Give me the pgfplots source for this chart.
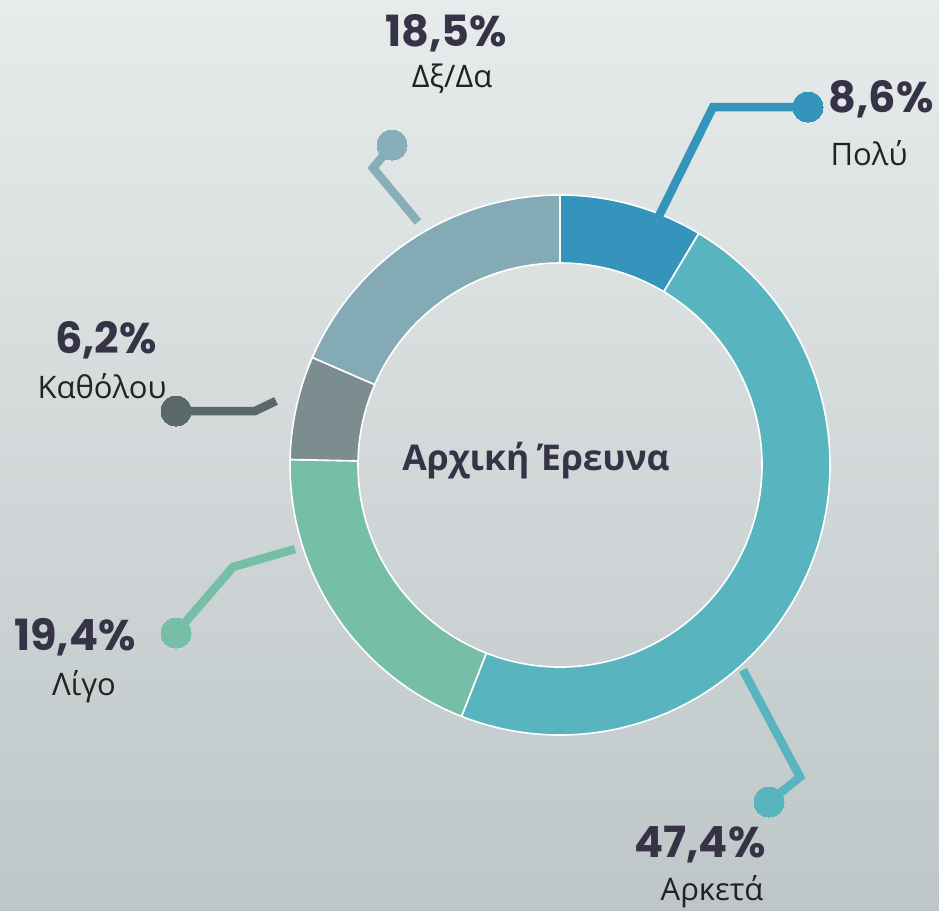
\documentclass[border=0pt]{standalone}
\usepackage{pgfplots}
\pgfplotsset{compat=1.18}
\usepackage{pgfplotstable}
\usepackage{fontspec}
\setmainfont{Open Sans}
\newfontfamily\pop{Poppins}

\definecolor{bgtop}{HTML}{E7EBEB}
\definecolor{bgbot}{HTML}{BEC6C7}
\definecolor{seg0}{HTML}{3594BC}
\definecolor{seg1}{HTML}{58B5C0}
\definecolor{seg2}{HTML}{76BEA8}
\definecolor{seg3}{HTML}{7B8D8E}
\definecolor{seg4}{HTML}{84ABB5}
\definecolor{lead3}{HTML}{5A6868}
\definecolor{lead4}{HTML}{88AFB9}
\definecolor{txt}{HTML}{363347}
\definecolor{lbl}{HTML}{222222}

\pgfplotstableread{
label value
Polu 8.6
Arketa 47.4
Ligo 19.4
Katholou 6.2
DxDa 18.5
}\datatable

\begin{document}
\begin{tikzpicture}
\gdef\cum{0}
\foreach \i in {0,...,4}{%
  \pgfplotstablegetelem{\i}{value}\of\datatable
  \pgfmathsetmacro\a{90-\cum/100.1*360}%
  \pgfmathsetmacro\newcum{\cum+\pgfplotsretval}%
  \pgfmathsetmacro\b{90-\newcum/100.1*360}%
  \expandafter\xdef\csname sa\i\endcsname{\a}%
  \expandafter\xdef\csname sb\i\endcsname{\b}%
  \xdef\cum{\newcum}%
}
\begin{axis}[scale only axis, width=939pt, height=910pt,
  xmin=0, xmax=939, ymin=0, ymax=910, y dir=reverse,
  hide axis, clip=false]
\fill[top color=bgtop, bottom color=bgbot] (axis cs:0,0) rectangle (axis cs:939,910);
\coordinate (C) at (axis cs:560,465);
\pgfplotsinvokeforeach{0,...,4}{
  \fill[seg#1, draw=white, line width=1.6pt, line join=round]
    ([shift={(\csname sa#1\endcsname:270pt)}]C)
    arc[start angle=\csname sa#1\endcsname, end angle=\csname sb#1\endcsname, radius=270pt]
    -- ([shift={(\csname sb#1\endcsname:202pt)}]C)
    arc[start angle=\csname sb#1\endcsname, end angle=\csname sa#1\endcsname, radius=202pt]
    -- cycle;
}
% leader lines
\tikzset{lead/.style={no markers, line width=8.5pt},
  dot/.style={only marks, mark=*, mark size=15pt, color=#1, mark options={draw=#1, fill=#1, line width=0pt}}}
\addplot[lead, seg0] coordinates {(658,218) (713,107) (808,107)};
\addplot[dot=seg0] coordinates {(808,107)};
\addplot[lead, lead4] coordinates {(418,222) (373,168) (392,145)};
\addplot[dot=lead4] coordinates {(392,145)};
\addplot[lead, lead3] coordinates {(176,411) (255,411) (276,401)};
\addplot[dot=lead3] coordinates {(176,411)};
\addplot[lead, seg2] coordinates {(295,549) (233,567) (176,633)};
\addplot[dot=seg2] coordinates {(176,633)};
\addplot[lead, seg1] coordinates {(743,670) (800,777) (769,802)};
\addplot[dot=seg1] coordinates {(769,802)};
% texts
\tikzset{pct/.style={font=\pop\bfseries\fontsize{43}{43}\selectfont, text=txt, anchor=base, inner sep=0pt},
  lab/.style={font=\fontsize{31}{31}\selectfont, text=lbl, anchor=base, inner sep=0pt}}
\node[pct] at (axis cs:446,46) {18,5\%};
\node[lab] at (axis cs:452,87) {Δξ/Δα};
\node[pct] at (axis cs:881,112) {8,6\%};
\node[lab] at (axis cs:869,165) {Πολύ};
\node[pct] at (axis cs:106,353) {6,2\%};
\node[lab] at (axis cs:102,398) {Καθόλου};
\node[pct] at (axis cs:75,650) {19,4\%};
\node[lab] at (axis cs:84,695) {Λίγο};
\node[pct] at (axis cs:700,857) {47,4\%};
\node[lab] at (axis cs:712,900) {Αρκετά};
\node[font=\bfseries\fontsize{35.5}{35.5}\selectfont, text=txt, anchor=base, inner sep=0pt] at (axis cs:536,470) {Αρχική Έρευνα};
\end{axis}
\end{tikzpicture}
\end{document}
